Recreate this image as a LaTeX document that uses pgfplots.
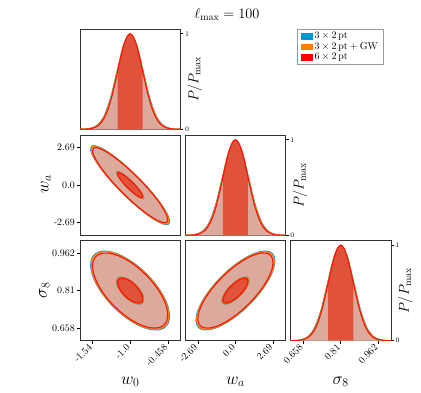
\documentclass[border=0pt]{standalone}
\usepackage{pgfplots}
\usepackage{pgfplotstable}
\pgfplotsset{compat=1.18}

\definecolor{cblue}{RGB}{0,150,210}
\definecolor{corange}{RGB}{255,128,0}
\definecolor{cred}{RGB}{255,20,0}
\definecolor{lightfill}{RGB}{220,170,157}
\definecolor{darkfill}{RGB}{224,83,58}

\pgfplotsset{
  panel/.style={
    scale only axis, width=100.3bp, height=100.3bp,
    axis line style={black!80, line width=0.7bp},
    tick style={black, line width=0.6bp},
    tick align=outside, major tick length=3bp,
    xtick=\empty, ytick=\empty,
    xtick pos=bottom, ytick pos=left,
    tick label style={font=\fontsize{10}{11}\selectfont},
    xticklabel style={rotate=45, anchor=east, inner sep=2.8bp},
    yticklabel style={inner sep=2bp},
  },
  diag/.style={
    panel, ymin=0, ymax=1.05,
    ytick={0,1}, ytick pos=right, yticklabel pos=right,
    yticklabel style={font=\fontsize{7.5}{8}\selectfont, inner sep=1.5bp},
  },
  w0ax/.style={xmin=-1.72, xmax=-0.28},
  waax/.style={xmin=-3.588, xmax=3.588},
  s8ax/.style={xmin=0.6072, xmax=1.0128},
}

% one-dimensional posteriors, normalised to the peak
\newcommand{\marg}[4]{%
  \addplot[fill=lightfill, draw=none, smooth] table[x=#3,y=p]{\obone} \closedcycle;
  \addplot[draw=cblue, line width=1bp, smooth] table[x=#3,y=p]{\obone};
  \addplot[draw=corange, line width=1bp, smooth] table[x=#2,y=p]{\obone};
  \addplot[fill=lightfill, draw=none, smooth] table[x=#1,y=p]{\redone} \closedcycle;
  \addplot[fill=darkfill, draw=none, smooth, restrict x to domain=#4] table[x=#1,y=p]{\redone} \closedcycle;
  \addplot[draw=cred, line width=1.1bp, smooth] table[x=#1,y=p]{\redone};
}

% two-dimensional contours: outer and inner level
\newcommand{\contours}[2]{%
  \addplot[smooth, fill=lightfill, draw=cblue, line width=1bp] table[x=xb,y=yb]{#1};
  \addplot[smooth, fill=lightfill, draw=corange, line width=1bp] table[x=xo,y=yo]{#1};
  \addplot[smooth, fill=lightfill, draw=cred, line width=1.1bp] table[x=xr,y=yr]{#1};
  \addplot[smooth, fill=darkfill, draw=cblue, line width=1bp] table[x=xb,y=yb]{#2};
  \addplot[smooth, fill=darkfill, draw=corange, line width=1bp] table[x=xo,y=yo]{#2};
  \addplot[smooth, fill=darkfill, draw=cred, line width=1.1bp] table[x=xr,y=yr]{#2};
}

\begin{document}

\pgfplotstableread{
w0 wa s8 p
-1.72 -3.588 0.6072 0.0003
-1.675 -3.3638 0.6199 0.0009
-1.63 -3.1395 0.6325 0.0022
-1.585 -2.9153 0.6452 0.0051
-1.54 -2.691 0.6579 0.0111
-1.495 -2.4668 0.6706 0.0228
-1.45 -2.2425 0.6832 0.0439
-1.405 -2.0183 0.6959 0.0796
-1.36 -1.794 0.7086 0.1353
-1.315 -1.5698 0.7213 0.2163
-1.27 -1.3455 0.7339 0.3247
-1.225 -1.1213 0.7466 0.4578
-1.18 -0.897 0.7593 0.6065
-1.135 -0.6728 0.772 0.7548
-1.09 -0.4485 0.7846 0.8825
-1.045 -0.2243 0.7973 0.9692
-1.0 0 0.81 1
-0.955 0.2243 0.8227 0.9692
-0.91 0.4485 0.8354 0.8825
-0.865 0.6728 0.848 0.7548
-0.82 0.897 0.8607 0.6065
-0.775 1.1213 0.8734 0.4578
-0.73 1.3455 0.8861 0.3247
-0.685 1.5698 0.8987 0.2163
-0.64 1.794 0.9114 0.1353
-0.595 2.0183 0.9241 0.0796
-0.55 2.2425 0.9368 0.0439
-0.505 2.4668 0.9494 0.0228
-0.46 2.691 0.9621 0.0111
-0.415 2.9153 0.9748 0.0051
-0.37 3.1395 0.9875 0.0022
-0.325 3.3638 1.0001 0.0009
-0.28 3.588 1.0128 0.0003
}\redone

\pgfplotstableread{
p ow0 bw0 owa bwa os8 bs8
0.0003 -1.7416 -1.7524 -3.6956 -3.7496 0.6011 0.5981
0.0022 -1.6489 -1.6584 -3.2337 -3.2809 0.6272 0.6246
0.0111 -1.5562 -1.5643 -2.7717 -2.8122 0.6533 0.6511
0.0439 -1.4635 -1.4703 -2.3098 -2.3435 0.6794 0.6775
0.1353 -1.3708 -1.3762 -1.8478 -1.8748 0.7056 0.704
0.3247 -1.2781 -1.2822 -1.3859 -1.4061 0.7317 0.7305
0.6065 -1.1854 -1.1881 -0.9239 -0.9374 0.7578 0.757
0.8825 -1.0927 -1.094 -0.462 -0.4687 0.7839 0.7835
1 -1 -1 0 0 0.81 0.81
0.8825 -0.9073 -0.906 0.462 0.4687 0.8361 0.8365
0.6065 -0.8146 -0.8119 0.9239 0.9374 0.8622 0.863
0.3247 -0.7219 -0.7178 1.3859 1.4061 0.8883 0.8895
0.1353 -0.6292 -0.6238 1.8478 1.8748 0.9144 0.916
0.0439 -0.5365 -0.5297 2.3098 2.3435 0.9406 0.9425
0.0111 -0.4438 -0.4357 2.7717 2.8122 0.9667 0.969
0.0022 -0.3511 -0.3416 3.2337 3.2809 0.9928 0.9954
0.0003 -0.2584 -0.2476 3.6956 3.7496 1.0189 1.0219
}\obone

% w0 - wa
\pgfplotstableread{
xr yr xo yo xb yb
-0.46 -2.4757 -0.4411 -2.5623 -0.433 -2.5995
-0.4784 -2.1184 -0.4601 -2.1925 -0.4523 -2.2243
-0.5324 -1.6165 -0.516 -1.6731 -0.509 -1.6973
-0.6182 -1.0048 -0.6048 -1.04 -0.5991 -1.055
-0.73 -0.3245 -0.7205 -0.3359 -0.7165 -0.3407
-0.8602 0.3778 -0.8553 0.391 -0.8532 0.3967
-1 1.0546 -1 1.0915 -1 1.1073
-1.1398 1.6593 -1.1447 1.7174 -1.1468 1.7423
-1.27 2.1512 -1.2795 2.2265 -1.2835 2.2588
-1.3818 2.4962 -1.3952 2.5836 -1.4009 2.621
-1.4676 2.6714 -1.484 2.7649 -1.491 2.805
-1.5216 2.6641 -1.5399 2.7573 -1.5477 2.7973
-1.54 2.4757 -1.5589 2.5623 -1.567 2.5995
-1.5216 2.1184 -1.5399 2.1925 -1.5477 2.2243
-1.4676 1.6165 -1.484 1.6731 -1.491 1.6973
-1.3818 1.0048 -1.3952 1.04 -1.4009 1.055
-1.27 0.3245 -1.2795 0.3359 -1.2835 0.3407
-1.1398 -0.3778 -1.1447 -0.391 -1.1468 -0.3967
-1 -1.0546 -1 -1.0915 -1 -1.1073
-0.8602 -1.6593 -0.8553 -1.7174 -0.8532 -1.7423
-0.73 -2.1512 -0.7205 -2.2265 -0.7165 -2.2588
-0.6182 -2.4962 -0.6048 -2.5836 -0.5991 -2.621
-0.5324 -2.6714 -0.516 -2.7649 -0.509 -2.805
-0.4784 -2.6641 -0.4601 -2.7573 -0.4523 -2.7973
-0.46 -2.4757 -0.4411 -2.5623 -0.433 -2.5995
}\wawOout

\pgfplotstableread{
xr yr xo yo xb yb
-0.82 -0.8252 -0.8092 -0.8747 -0.8056 -0.8912
-0.8261 -0.7061 -0.8157 -0.7485 -0.8122 -0.7626
-0.8441 -0.5388 -0.8348 -0.5711 -0.8316 -0.5819
-0.8727 -0.3349 -0.8651 -0.355 -0.8625 -0.3617
-0.91 -0.1082 -0.9046 -0.1147 -0.9028 -0.1169
-0.9534 0.1259 -0.9506 0.1335 -0.9497 0.136
-1 0.3515 -1 0.3726 -1 0.3796
-1.0466 0.5531 -1.0494 0.5863 -1.0503 0.5973
-1.09 0.7171 -1.0954 0.7601 -1.0972 0.7745
-1.1273 0.8321 -1.1349 0.882 -1.1375 0.8987
-1.1559 0.8905 -1.1652 0.9439 -1.1684 0.9617
-1.1739 0.888 -1.1843 0.9413 -1.1878 0.959
-1.18 0.8252 -1.1908 0.8747 -1.1944 0.8912
-1.1739 0.7061 -1.1843 0.7485 -1.1878 0.7626
-1.1559 0.5388 -1.1652 0.5711 -1.1684 0.5819
-1.1273 0.3349 -1.1349 0.355 -1.1375 0.3617
-1.09 0.1082 -1.0954 0.1147 -1.0972 0.1169
-1.0466 -0.1259 -1.0494 -0.1335 -1.0503 -0.136
-1 -0.3515 -1 -0.3726 -1 -0.3796
-0.9534 -0.5531 -0.9506 -0.5863 -0.9497 -0.5973
-0.91 -0.7171 -0.9046 -0.7601 -0.9028 -0.7745
-0.8727 -0.8321 -0.8651 -0.882 -0.8625 -0.8987
-0.8441 -0.8905 -0.8348 -0.9439 -0.8316 -0.9617
-0.8261 -0.888 -0.8157 -0.9413 -0.8122 -0.959
-0.82 -0.8252 -0.8092 -0.8747 -0.8056 -0.8912
}\wawOin

% w0 - sigma8
\pgfplotstableread{
xr yr xo yo xb yb
-0.46 0.7111 -0.4411 0.7077 -0.433 0.7062
-0.4784 0.7444 -0.4601 0.7421 -0.4523 0.7411
-0.5324 0.7822 -0.516 0.7812 -0.509 0.7808
-0.6182 0.8218 -0.6048 0.8222 -0.5991 0.8224
-0.73 0.8607 -0.7205 0.8625 -0.7165 0.8632
-0.8602 0.8961 -0.8553 0.8991 -0.8532 0.9004
-1 0.9256 -1 0.9296 -1 0.9314
-1.1398 0.9472 -1.1447 0.952 -1.1468 0.9541
-1.27 0.9595 -1.2795 0.9648 -1.2835 0.967
-1.3818 0.9616 -1.3952 0.9669 -1.4009 0.9692
-1.4676 0.9534 -1.484 0.9584 -1.491 0.9606
-1.5216 0.9354 -1.5399 0.9398 -1.5477 0.9417
-1.54 0.9089 -1.5589 0.9123 -1.567 0.9138
-1.5216 0.8756 -1.5399 0.8779 -1.5477 0.8789
-1.4676 0.8378 -1.484 0.8388 -1.491 0.8392
-1.3818 0.7982 -1.3952 0.7978 -1.4009 0.7976
-1.27 0.7593 -1.2795 0.7575 -1.2835 0.7568
-1.1398 0.7239 -1.1447 0.7209 -1.1468 0.7196
-1 0.6944 -1 0.6904 -1 0.6886
-0.8602 0.6728 -0.8553 0.668 -0.8532 0.6659
-0.73 0.6605 -0.7205 0.6552 -0.7165 0.653
-0.6182 0.6584 -0.6048 0.6531 -0.5991 0.6508
-0.5324 0.6666 -0.516 0.6616 -0.509 0.6594
-0.4784 0.6846 -0.4601 0.6802 -0.4523 0.6783
-0.46 0.7111 -0.4411 0.7077 -0.433 0.7062
}\swOout

\pgfplotstableread{
xr yr xo yo xb yb
-0.82 0.777 -0.8092 0.775 -0.8056 0.7744
-0.8261 0.7881 -0.8157 0.7868 -0.8122 0.7864
-0.8441 0.8007 -0.8348 0.8001 -0.8316 0.8
-0.8727 0.8139 -0.8651 0.8141 -0.8625 0.8142
-0.91 0.8269 -0.9046 0.8279 -0.9028 0.8282
-0.9534 0.8387 -0.9506 0.8404 -0.9497 0.841
-1 0.8485 -1 0.8508 -1 0.8516
-1.0466 0.8557 -1.0494 0.8584 -1.0503 0.8594
-1.09 0.8598 -1.0954 0.8628 -1.0972 0.8638
-1.1273 0.8605 -1.1349 0.8635 -1.1375 0.8646
-1.1559 0.8578 -1.1652 0.8607 -1.1684 0.8616
-1.1739 0.8518 -1.1843 0.8543 -1.1878 0.8551
-1.18 0.843 -1.1908 0.845 -1.1944 0.8456
-1.1739 0.8319 -1.1843 0.8332 -1.1878 0.8336
-1.1559 0.8193 -1.1652 0.8199 -1.1684 0.82
-1.1273 0.8061 -1.1349 0.8059 -1.1375 0.8058
-1.09 0.7931 -1.0954 0.7921 -1.0972 0.7918
-1.0466 0.7813 -1.0494 0.7796 -1.0503 0.779
-1 0.7715 -1 0.7692 -1 0.7684
-0.9534 0.7643 -0.9506 0.7616 -0.9497 0.7606
-0.91 0.7602 -0.9046 0.7572 -0.9028 0.7562
-0.8727 0.7595 -0.8651 0.7565 -0.8625 0.7554
-0.8441 0.7622 -0.8348 0.7593 -0.8316 0.7584
-0.8261 0.7682 -0.8157 0.7657 -0.8122 0.7649
-0.82 0.777 -0.8092 0.775 -0.8056 0.7744
}\swOin

% wa - sigma8
\pgfplotstableread{
xr yr xo yo xb yb
2.691 0.9241 2.7852 0.9281 2.8256 0.9298
2.5992 0.9462 2.6902 0.951 2.7292 0.953
2.3304 0.9591 2.412 0.9643 2.4469 0.9665
1.9028 0.9618 1.9694 0.9671 1.9979 0.9694
1.3455 0.9542 1.3926 0.9592 1.4128 0.9614
0.6964 0.9367 0.7208 0.9411 0.7312 0.943
0 0.9106 0 0.9141 0 0.9156
-0.6964 0.8777 -0.7208 0.8801 -0.7312 0.8811
-1.3455 0.8401 -1.3926 0.8412 -1.4128 0.8416
-1.9028 0.8005 -1.9694 0.8002 -1.9979 0.8
-2.3304 0.7615 -2.412 0.7598 -2.4469 0.7591
-2.5992 0.7259 -2.6902 0.7229 -2.7292 0.7217
-2.691 0.6959 -2.7852 0.6919 -2.8256 0.6902
-2.5992 0.6738 -2.6902 0.669 -2.7292 0.667
-2.3304 0.6609 -2.412 0.6557 -2.4469 0.6535
-1.9028 0.6582 -1.9694 0.6529 -1.9979 0.6506
-1.3455 0.6658 -1.3926 0.6608 -1.4128 0.6586
-0.6964 0.6833 -0.7208 0.6789 -0.7312 0.677
0 0.7094 0 0.7059 0 0.7044
0.6964 0.7423 0.7208 0.7399 0.7312 0.7389
1.3455 0.7799 1.3926 0.7788 1.4128 0.7784
1.9028 0.8195 1.9694 0.8198 1.9979 0.82
2.3304 0.8585 2.412 0.8602 2.4469 0.8609
2.5992 0.8941 2.6902 0.8971 2.7292 0.8983
2.691 0.9241 2.7852 0.9281 2.8256 0.9298
}\swAout

\pgfplotstableread{
xr yr xo yo xb yb
0.897 0.848 0.9508 0.8503 0.9688 0.851
0.8664 0.8554 0.9184 0.8581 0.9357 0.859
0.7768 0.8597 0.8234 0.8627 0.8389 0.8637
0.6343 0.8606 0.6724 0.8636 0.685 0.8646
0.4485 0.8581 0.4754 0.861 0.4844 0.8619
0.2321 0.8522 0.246 0.8547 0.2507 0.8556
0 0.8435 0 0.8455 0 0.8462
-0.2321 0.8326 -0.246 0.834 -0.2507 0.8344
-0.4485 0.82 -0.4754 0.8206 -0.4844 0.8208
-0.6343 0.8068 -0.6724 0.8066 -0.685 0.8065
-0.7768 0.7938 -0.8234 0.7928 -0.8389 0.7925
-0.8664 0.782 -0.9184 0.7803 -0.9357 0.7798
-0.897 0.772 -0.9508 0.7697 -0.9688 0.769
-0.8664 0.7646 -0.9184 0.7619 -0.9357 0.761
-0.7768 0.7603 -0.8234 0.7573 -0.8389 0.7563
-0.6343 0.7594 -0.6724 0.7564 -0.685 0.7554
-0.4485 0.7619 -0.4754 0.759 -0.4844 0.7581
-0.2321 0.7678 -0.246 0.7653 -0.2507 0.7644
0 0.7765 0 0.7745 0 0.7738
0.2321 0.7874 0.246 0.786 0.2507 0.7856
0.4485 0.8 0.4754 0.7994 0.4844 0.7992
0.6343 0.8132 0.6724 0.8134 0.685 0.8135
0.7768 0.8262 0.8234 0.8272 0.8389 0.8275
0.8664 0.838 0.9184 0.8397 0.9357 0.8402
0.897 0.848 0.9508 0.8503 0.9688 0.851
}\swAin

\begin{tikzpicture}
\path[use as bounding box] (0,0) rectangle (421bp,393bp);

% row 0: w0 marginal + legend
\begin{axis}[diag, w0ax, at={(80bp,263.7bp)}, anchor=south west,
    legend style={at={(2.1635,1.0)}, anchor=north west, draw=black!40,
      line width=0.6bp, font=\fontsize{10}{11}\selectfont,
      inner xsep=4bp, inner ysep=1.5bp, row sep=-0.5bp, cells={anchor=west},
      nodes={inner sep=1.5bp}},
    legend image code/.code={\path[#1] (0bp,-3.3bp) rectangle (11.7bp,3.3bp);},
  ]
  \addlegendimage{fill=cblue, draw=none}
  \addlegendentry{$3\times2\,\mathrm{pt}$}
  \addlegendimage{fill=corange, draw=none}
  \addlegendentry{$3\times2\,\mathrm{pt}+\mathrm{GW}$}
  \addlegendimage{fill=red, draw=none}
  \addlegendentry{$6\times2\,\mathrm{pt}$}
  \marg{w0}{ow0}{bw0}{-1.1801:-0.8199}
\end{axis}

% row 1
\begin{axis}[panel, w0ax, ymin=-3.588, ymax=3.588,
    at={(80bp,157.7bp)}, anchor=south west,
    ytick={-2.69,0,2.69}, yticklabels={-2.69,0.0,2.69}]
  \contours{\wawOout}{\wawOin}
\end{axis}

\begin{axis}[diag, waax, at={(185.3bp,157.7bp)}, anchor=south west]
  \marg{wa}{owa}{bwa}{-0.8971:0.8971}
\end{axis}

% row 2
\begin{axis}[panel, w0ax, ymin=0.6072, ymax=1.0128,
    at={(80bp,52.3bp)}, anchor=south west,
    xtick={-1.54,-1.0,-0.458}, xticklabels={-1.54,-1.0,-0.458},
    ytick={0.658,0.81,0.962}, yticklabels={0.658,0.81,0.962}]
  \contours{\swOout}{\swOin}
\end{axis}

\begin{axis}[panel, waax, ymin=0.6072, ymax=1.0128,
    at={(185.3bp,52.3bp)}, anchor=south west,
    xtick={-2.69,0,2.69}, xticklabels={-2.69,0.0,2.69}]
  \contours{\swAout}{\swAin}
\end{axis}

\begin{axis}[diag, s8ax, at={(290.6bp,52.3bp)}, anchor=south west,
    xtick={0.658,0.81,0.962}, xticklabels={0.658,0.81,0.962}]
  \marg{s8}{os8}{bs8}{0.7592:0.8608}
\end{axis}

% title and labels
\node[anchor=base, font=\fontsize{14.5}{17}\selectfont] at (227bp,374.7bp) {$\ell_{\max} = 100$};
\node[anchor=base, font=\fontsize{17}{20}\selectfont] at (130.2bp,9bp) {$w_0$};
\node[anchor=base, font=\fontsize{17}{20}\selectfont] at (235.4bp,9bp) {$w_a$};
\node[anchor=base, font=\fontsize{17}{20}\selectfont] at (340.7bp,9bp) {$\sigma_8$};
\node[anchor=base, rotate=90, font=\fontsize{17}{20}\selectfont] at (48.3bp,208.5bp) {$w_a$};
\node[anchor=base, rotate=90, font=\fontsize{17}{20}\selectfont] at (46.7bp,102.5bp) {$\sigma_8$};
\node[anchor=base, rotate=90, font=\fontsize{14}{16}\selectfont] at (198.3bp,313.85bp) {$P/P_{\max}$};
\node[anchor=base, rotate=90, font=\fontsize{14}{16}\selectfont] at (303.6bp,207.85bp) {$P/P_{\max}$};
\node[anchor=base, rotate=90, font=\fontsize{14}{16}\selectfont] at (408.9bp,102.45bp) {$P/P_{\max}$};
\end{tikzpicture}
\end{document}
